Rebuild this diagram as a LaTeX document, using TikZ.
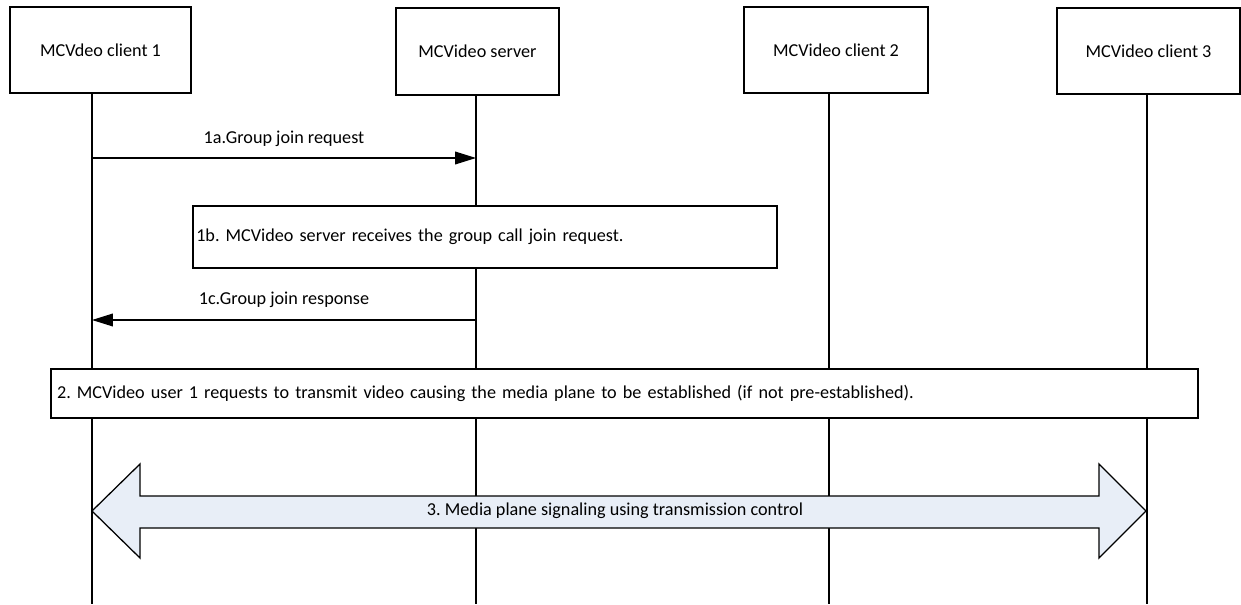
\documentclass[tikz,border=0pt]{standalone}
\usepackage{fontspec}
\setmainfont{Carlito}
\usetikzlibrary{arrows.meta, positioning}
\definecolor{arrowfill}{RGB}{232,238,247}
\frenchspacing

\begin{document}
\begin{tikzpicture}[x=0.55pt, y=-0.55pt,
    every node/.style={font=\fontsize{10}{12}\selectfont},
    party/.style={draw, line width=0.7pt, fill=white, minimum height=47.3pt, inner sep=0pt},
    notebox/.style={draw, line width=0.7pt, fill=white, align=left},
    lifeline/.style={line width=0.8pt},
    msg/.style={line width=0.7pt, -{Triangle[length=11.5pt,width=7pt]}},
    bigarrow/.style={draw, line width=0.7pt, fill=arrowfill}]
    \useasboundingbox (0,0) rectangle (1241,604);

    % Lifeline ends
    \coordinate (c1end) at (92,604);
    \coordinate (srvend) at (476,604);
    \coordinate (c2end) at (829,604);
    \coordinate (c3end) at (1147,604);

    % Parties
    \node[party, minimum width=99.55pt] (client1) at (100.5,50) {MCVdeo client 1};
    \node[party, minimum width=89.65pt, minimum height=47.85pt] (server) at (477.5,51.5) {MCVideo server};
    \node[party, minimum width=101.2pt] (client2) at (836,50) {MCVideo client 2};
    \node[party, minimum width=100.65pt] (client3) at (1148.5,51) {MCVideo client 3};

    % Lifelines
    \draw[lifeline] (client1.south -| c1end) -- (c1end);
    \draw[lifeline] (server.south -| srvend) -- (srvend);
    \draw[lifeline] (client2.south -| c2end) -- (c2end);
    \draw[lifeline] (client3.south -| c3end) -- (c3end);

    % 1a. Group join request
    \coordinate (a1) at (92,158);
    \coordinate (a2) at (476,158);
    \draw[msg] (a1) -- node[midway, yshift=10.5pt] {1a.Group join request} (a2);

    % 1b. Server receives request
    \node[notebox, inner xsep=1.8pt, text width=317.6pt, minimum height=34.1pt] (recv) at (485,237)
        {1b. MCVideo server receives the group call join request.};

    % 1c. Group join response
    \coordinate (c1) at (476,320);
    \coordinate (c2) at (92,320);
    \draw[msg] (c1) -- node[midway, yshift=11pt] {1c.Group join response} (c2);

    % 2. Media plane setup
    \node[notebox, inner xsep=3.3pt, text width=624.2pt, minimum height=26.95pt] (setup) at (624.5,393.5)
        {2. MCVideo user 1 requests to transmit video causing the media plane to be established (if not pre-established).};

    % 3. Media plane signaling (double arrow)
    \coordinate (m1) at (92,511);
    \coordinate (m2) at (1146,511);
    \draw[bigarrow] (m1) -- ++(48,-47) -- ++(0,32) -- ++(959,0) -- ++(0,-32)
        -- (m2) -- ++(-47,47) -- ++(0,-30) -- ++(-959,0) -- ++(0,30) -- cycle;
    \node (signal) at (615,511) {3. Media plane signaling using transmission control};
\end{tikzpicture}
\end{document}
